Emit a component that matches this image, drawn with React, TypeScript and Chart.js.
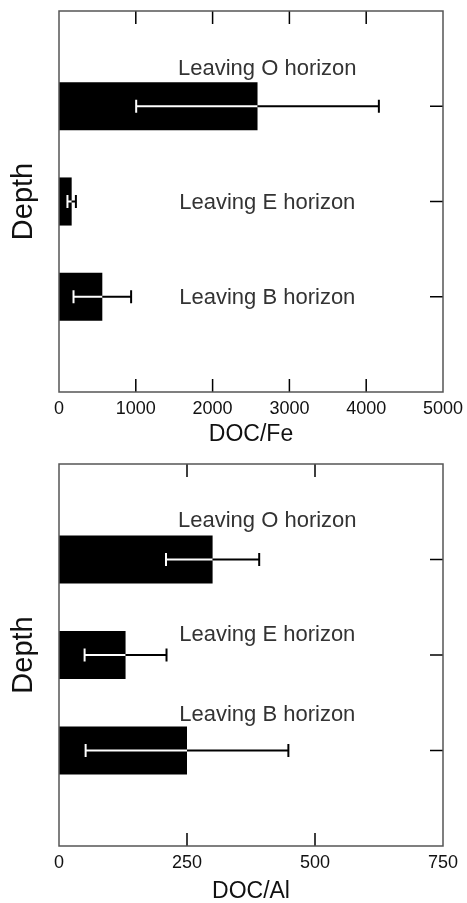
import React, { useEffect, useRef } from 'react';
import { Chart, registerables } from 'chart.js';

Chart.register(...registerables);

// ---- data ----
const categories = ['Leaving O horizon', 'Leaving E horizon', 'Leaving B horizon'];
const docFeMeans = [2585, 165, 564];
const docFeErrors = [1580, 55, 375];
const docFeTicks = [0, 1000, 2000, 3000, 4000, 5000];
const docAlMeans = [300, 130, 250];
const docAlErrors = [91, 80, 198];
const docAlTicks = [0, 250, 500, 750];

const FONT = '"Liberation Sans", Arial, sans-serif';

const pad = <T,>(arr: T[]): (T | null)[] => [null, ...arr, null];

const errorBarPlugin = {
  id: 'errorBars',
  afterDatasetsDraw(chart: any, _args: any, opts: any) {
    const errs: (number | null)[] = opts.errors || [];
    const meta = chart.getDatasetMeta(0);
    const xs = chart.scales.x;
    const ctx = chart.ctx as CanvasRenderingContext2D;
    const data = chart.data.datasets[0].data as (number | null)[];
    ctx.save();
    ctx.lineWidth = 2;
    ctx.lineCap = 'butt';
    meta.data.forEach((el: any, i: number) => {
      const v = data[i];
      const e = errs[i];
      if (v == null || e == null) return;
      const y = el.y;
      const end = el.x;
      const lo = xs.getPixelForValue(v - e);
      const hi = xs.getPixelForValue(v + e);
      const line = (a: number, b: number, color: string) => {
        if (b <= a) return;
        ctx.strokeStyle = color;
        ctx.beginPath();
        ctx.moveTo(a, y);
        ctx.lineTo(b, y);
        ctx.stroke();
      };
      line(lo, Math.min(hi, end), '#ffffff');
      line(Math.max(lo, end), hi, '#000000');
      const cap = (x: number) => {
        ctx.strokeStyle = x < end ? '#ffffff' : '#000000';
        ctx.beginPath();
        ctx.moveTo(x, y - 6.5);
        ctx.lineTo(x, y + 6.5);
        ctx.stroke();
      };
      cap(lo);
      cap(hi);
    });
    ctx.restore();
  },
};

const categoryLabelPlugin = {
  id: 'categoryLabels',
  afterDatasetsDraw(chart: any, _args: any, opts: any) {
    const offsets: number[] = opts.offsets || [];
    const ys = chart.scales.y;
    const area = chart.chartArea;
    const ctx = chart.ctx as CanvasRenderingContext2D;
    const labels = chart.data.labels as string[];
    ctx.save();
    ctx.font = `22px ${FONT}`;
    ctx.fillStyle = '#333333';
    ctx.textAlign = 'center';
    ctx.textBaseline = 'alphabetic';
    let k = 0;
    labels.forEach((lab, i) => {
      if (!lab) return;
      const y = ys.getPixelForValue(i) + (offsets[k] || 0);
      ctx.fillText(lab, area.left + 208.3, y);
      k++;
    });
    ctx.restore();
  },
};

const framePlugin = {
  id: 'frame',
  afterDraw(chart: any) {
    const { left, right, top, bottom } = chart.chartArea;
    const ctx = chart.ctx as CanvasRenderingContext2D;
    const xs = chart.scales.x;
    const ys = chart.scales.y;
    ctx.save();
    // inward ticks
    ctx.strokeStyle = '#000000';
    ctx.lineWidth = 1.5;
    const tickLen = 13;
    xs.ticks.forEach((t: any) => {
      const x = xs.getPixelForValue(t.value);
      if (x <= left + 1 || x >= right - 1) return;
      ctx.beginPath();
      ctx.moveTo(x, bottom);
      ctx.lineTo(x, bottom - tickLen);
      ctx.moveTo(x, top);
      ctx.lineTo(x, top + tickLen);
      ctx.stroke();
    });
    (chart.data.labels as string[]).forEach((lab, i) => {
      if (!lab) return;
      const y = ys.getPixelForValue(i);
      ctx.beginPath();
      ctx.moveTo(right, y);
      ctx.lineTo(right - tickLen, y);
      ctx.stroke();
    });
    // box
    ctx.strokeStyle = '#555555';
    ctx.lineWidth = 1.5;
    ctx.strokeRect(left, top, right - left, bottom - top);
    ctx.restore();
  },
};

type Spec = {
  means: number[];
  errors: number[];
  ticks: number[];
  title: string;
  height: number;
  padTop: number;
  xAxisHeight: number;
  titlePadBottom: number;
  labelOffsets: number[];
};

function makeConfig(s: Spec): any {
  const max = s.ticks[s.ticks.length - 1];
  return {
    type: 'bar',
    data: {
      labels: ['', ...categories, ''],
      datasets: [
        {
          data: pad(s.means),
          backgroundColor: '#000000',
          borderWidth: 0,
          categoryPercentage: 1,
          barPercentage: 0.505,
        },
      ],
    },
    plugins: [errorBarPlugin, categoryLabelPlugin, framePlugin],
    options: {
      indexAxis: 'y',
      animation: false,
      responsive: false,
      devicePixelRatio: 1,
      layout: { padding: { top: s.padTop, right: 24, left: 0, bottom: 0 } },
      plugins: {
        legend: { display: false },
        tooltip: { enabled: false },
        errorBars: { errors: pad(s.errors) },
        categoryLabels: { offsets: s.labelOffsets },
      },
      scales: {
        x: {
          type: 'linear',
          position: 'bottom',
          min: 0,
          max,
          afterBuildTicks: (scale: any) => {
            scale.ticks = s.ticks.map((v) => ({ value: v }));
          },
          afterFit: (scale: any) => {
            scale.height = s.xAxisHeight;
            scale.paddingLeft = 0;
            scale.paddingRight = 0;
          },
          grid: { display: false, drawTicks: false },
          border: { display: false },
          ticks: {
            color: '#111111',
            padding: 6,
            maxRotation: 0,
            autoSkip: false,
            font: { family: FONT, size: 18, lineHeight: 1.2 },
            callback: (v: any) => String(v),
          },
          title: {
            display: true,
            text: s.title,
            color: '#111111',
            font: { family: FONT, size: 23, lineHeight: 1 },
            padding: { top: 0, bottom: s.titlePadBottom },
          },
        },
        y: {
          type: 'category',
          offset: false,
          afterFit: (scale: any) => {
            scale.width = 59;
            scale.paddingTop = 0;
            scale.paddingBottom = 0;
          },
          grid: { display: false, drawTicks: false },
          border: { display: false },
          ticks: { display: false },
          title: {
            display: true,
            text: 'Depth',
            color: '#111111',
            font: { family: FONT, size: 29, lineHeight: 1 },
            padding: { top: 9, bottom: 0 },
          },
        },
      },
    },
  };
}

function BarChart({ spec, top }: { spec: Spec; top: number }) {
  const ref = useRef<HTMLCanvasElement>(null);
  useEffect(() => {
    const chart = new Chart(ref.current as HTMLCanvasElement, makeConfig(spec));
    return () => chart.destroy();
  }, []);
  return (
    <div style={{ position: 'absolute', left: 0, top, width: 467, height: spec.height }}>
      <canvas ref={ref} width={467} height={spec.height} style={{ display: 'block' }} />
    </div>
  );
}

const feSpec: Spec = {
  means: docFeMeans,
  errors: docFeErrors,
  ticks: docFeTicks,
  title: 'DOC/Fe',
  height: 450,
  padTop: 11,
  xAxisHeight: 58,
  titlePadBottom: 4,
  labelOffsets: [-31.7, 7.5, 7.5],
};

const alSpec: Spec = {
  means: docAlMeans,
  errors: docAlErrors,
  ticks: docAlTicks,
  title: 'DOC/Al',
  height: 453,
  padTop: 14,
  xAxisHeight: 57,
  titlePadBottom: 0,
  labelOffsets: [-32.6, -14.3, -29.3],
};

export default function App() {
  return (
    <div style={{ position: 'absolute', left: 0, top: 0, width: 467, height: 903, background: '#ffffff' }}>
      <BarChart spec={feSpec} top={0} />
      <BarChart spec={alSpec} top={450} />
    </div>
  );
}
